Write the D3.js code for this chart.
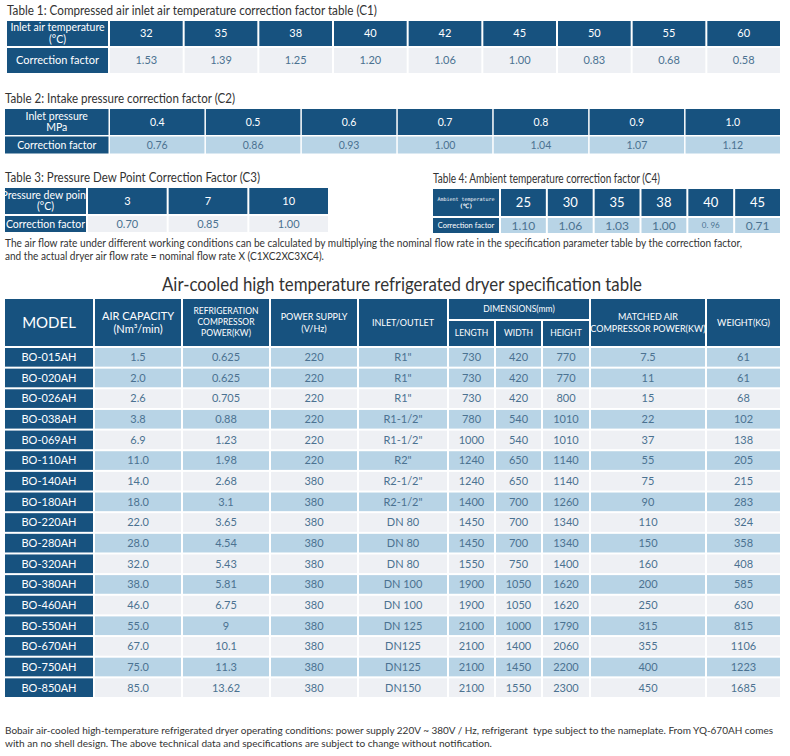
<!DOCTYPE html>
<html>
<head>
<meta charset="utf-8">
<script src="https://cdn.jsdelivr.net/npm/d3@7/dist/d3.min.js"></script>
<style>
  body { margin: 0; background: #fff; }
  svg { display: block; font-family: Lato, 'Noto Sans', sans-serif; }
</style>
</head>
<body>
<svg id="chart"></svg>
<script>
// correction factor tables
const c1Temps = ['32', '35', '38', '40', '42', '45', '50', '55', '60'];
const c1Factors = ['1.53', '1.39', '1.25', '1.20', '1.06', '1.00', '0.83', '0.68', '0.58'];
const c2Pressures = ['0.4', '0.5', '0.6', '0.7', '0.8', '0.9', '1.0'];
const c2Factors = ['0.76', '0.86', '0.93', '1.00', '1.04', '1.07', '1.12'];
const c3DewPoints = ['3', '7', '10'];
const c3Factors = ['0.70', '0.85', '1.00'];
const c4Temps = ['25', '30', '35', '38', '40', '45'];
const c4Factors = ['1.10', '1.06', '1.03', '1.00', '0. 96', '0.71'];

// specification table
const models = ['BO-015AH', 'BO-020AH', 'BO-026AH', 'BO-038AH', 'BO-069AH', 'BO-110AH', 'BO-140AH', 'BO-180AH', 'BO-220AH',
  'BO-280AH', 'BO-320AH', 'BO-380AH', 'BO-460AH', 'BO-550AH', 'BO-670AH', 'BO-750AH', 'BO-850AH'];
const airCapacity = ['1.5', '2.0', '2.6', '3.8', '6.9', '11.0', '14.0', '18.0', '22.0', '28.0', '32.0', '38.0', '46.0', '55.0', '67.0', '75.0', '85.0'];
const compressorPower = ['0.625', '0.625', '0.705', '0.88', '1.23', '1.98', '2.68', '3.1', '3.65', '4.54', '5.43', '5.81', '6.75', '9', '10.1', '11.3', '13.62'];
const powerSupply = ['220', '220', '220', '220', '220', '220', '380', '380', '380', '380', '380', '380', '380', '380', '380', '380', '380'];
const inletOutlet = ['R1"', 'R1"', 'R1"', 'R1-1/2"', 'R1-1/2"', 'R2"', 'R2-1/2"', 'R2-1/2"', 'DN 80', 'DN 80', 'DN 80', 'DN 100', 'DN 100', 'DN 125', 'DN125', 'DN125', 'DN150'];
const lengths = ['730', '730', '730', '780', '1000', '1240', '1240', '1400', '1450', '1450', '1550', '1900', '1900', '2100', '2100', '2100', '2100'];
const widths = ['420', '420', '420', '540', '540', '650', '650', '700', '700', '700', '750', '1050', '1050', '1000', '1400', '1450', '1550'];
const heights = ['770', '770', '800', '1010', '1010', '1140', '1140', '1260', '1340', '1340', '1400', '1620', '1620', '1790', '2060', '2200', '2300'];
const matchedPower = ['7.5', '11', '15', '22', '37', '55', '75', '90', '110', '150', '160', '200', '250', '315', '355', '400', '450'];
const weights = ['61', '61', '68', '102', '138', '205', '215', '283', '324', '358', '408', '585', '630', '815', '1106', '1223', '1685'];

const width = 790, height = 756;
const DARK = '#17527f', BLUE = '#b8d4e6', GREY = '#eef0f4', TEXT = '#4b7291', TITLE = '#333';

const svg = d3.select('#chart').attr('width', width).attr('height', height);

// small two-row correction table
function factorTable(o) {
  const g = svg.append('g');
  g.append('text').attr('x', o.x0).attr('y', o.top - 6).attr('font-size', 12.5).attr('fill', TITLE)
    .attr('textLength', o.titleLen).attr('lengthAdjust', 'spacingAndGlyphs')
    .text(o.title);

  const x = d3.scaleBand().domain(o.keys).range([o.split, o.x1 + o.gap]);
  const rows = [
    { y: o.top, h: o.headH, fill: DARK, color: '#fff', vals: o.keys, size: o.headSize, label: o.headLabel },
    { y: o.top + o.headH + o.gap, h: o.rowH, fill: o.rowFill, color: TEXT, vals: o.values, size: o.valSize, label: ['Correction factor'] }
  ];

  rows.forEach((r, ri) => {
    // first column label cell
    const cx = (o.x0 + o.split - o.gap) / 2;
    g.append('rect').attr('x', o.x0).attr('y', r.y).attr('width', o.split - o.gap - o.x0).attr('height', r.h).attr('fill', DARK);
    const lab = g.append('text').attr('fill', '#fff').attr('text-anchor', 'middle')
      .attr('font-size', ri === 0 ? o.labSize : o.cfSize);
    r.label.forEach((t, li) => {
      lab.append('tspan').attr('x', cx)
        .attr('y', r.y + r.h / 2 + (li - (r.label.length - 1) / 2) * (ri === 0 ? o.labLead : 0))
        .attr('dy', '0.35em')
        .attr('font-family', ri === 0 && o.labFont ? o.labFont : null)
        .attr('font-size', li === 1 && o.unitSize ? o.unitSize : null)
        .attr('font-weight', li === 1 && o.unitBold ? 'bold' : null)
        .text(t);
    });

    const cells = r.vals.map((v, i) => ({ k: o.keys[i], v }));
    g.selectAll(null).data(cells).join('rect')
      .attr('x', d => x(d.k)).attr('y', r.y)
      .attr('width', x.bandwidth() - o.gap).attr('height', r.h)
      .attr('fill', r.fill);
    g.selectAll(null).data(cells).join('text')
      .attr('x', d => x(d.k) + (x.bandwidth() - o.gap) / 2)
      .attr('y', r.y + r.h / 2).attr('dy', '0.35em')
      .attr('text-anchor', 'middle').attr('fill', r.color)
      .attr('font-size', d => (o.smallVal && d.v === o.smallVal) ? 8 : r.size)
      .text(d => d.v);
  });
}

factorTable({
  title: 'Table 1: Compressed air inlet air temperature correction factor table (C1)', titleLen: 370,
  x0: 7, split: 110, x1: 780, gap: 2, top: 21, headH: 25, rowH: 25,
  keys: c1Temps, values: c1Factors, rowFill: GREY,
  headLabel: ['Inlet air temperature', '(°C)'], labSize: 10.5, labLead: 12, cfSize: 11,
  headSize: 11, valSize: 11
});

factorTable({
  title: 'Table 2: Intake pressure correction factor (C2)', titleLen: 230,
  x0: 5, split: 110, x1: 780, gap: 1.5, top: 109, headH: 26, rowH: 17,
  keys: c2Pressures, values: c2Factors, rowFill: BLUE,
  headLabel: ['Inlet pressure', 'MPa'], labSize: 10.5, labLead: 11, cfSize: 10.5,
  headSize: 10.5, valSize: 10.5
});

factorTable({
  title: 'Table 3: Pressure Dew Point Correction Factor (C3)', titleLen: 255,
  x0: 5, split: 88, x1: 328, gap: 2, top: 188, headH: 26, rowH: 16,
  keys: c3DewPoints, values: c3Factors, rowFill: GREY,
  headLabel: ['Pressure dew point', '(°C)'], labSize: 10.5, labLead: 11, cfSize: 10.5,
  headSize: 11, valSize: 11
});

factorTable({
  title: 'Table 4: Ambient temperature correction factor (C4)', titleLen: 227,
  x0: 433, split: 501, x1: 780, gap: 2, top: 189, headH: 27, rowH: 15,
  keys: c4Temps, values: c4Factors, rowFill: BLUE,
  headLabel: ['Ambient temperature', '(℃)'], labSize: 5, labLead: 7, cfSize: 7.5,
  labFont: "'DejaVu Sans Mono', monospace", unitSize: 6, unitBold: true,
  headSize: 13, valSize: 12, smallVal: '0. 96'
});

// note under the small tables
svg.append('g').attr('font-size', 10.5).attr('fill', TITLE)
  .selectAll('text')
  .data([
    { t: 'The air flow rate under different working conditions can be calculated by multiplying the nominal flow rate in the specification parameter table by the correction factor,', len: 737 },
    { t: 'and the actual dryer air flow rate = nominal flow rate X (C1XC2XC3XC4).', len: 319 }
  ])
  .join('text')
  .attr('x', 5).attr('y', (d, i) => 247 + i * 13)
  .attr('textLength', d => d.len).attr('lengthAdjust', 'spacingAndGlyphs')
  .text(d => d.t);

// main title
svg.append('text').attr('x', 162).attr('y', 291)
  .attr('font-size', 19).attr('fill', TITLE)
  .attr('textLength', 480).attr('lengthAdjust', 'spacingAndGlyphs')
  .text('Air-cooled high temperature refrigerated dryer specification table');

// main specification table
const columns = [
  { key: 'model', w: 90, vals: models },
  { key: 'air', w: 88, vals: airCapacity },
  { key: 'comp', w: 88, vals: compressorPower },
  { key: 'power', w: 88, vals: powerSupply },
  { key: 'inlet', w: 90, vals: inletOutlet },
  { key: 'len', w: 47, vals: lengths },
  { key: 'wid', w: 47, vals: widths },
  { key: 'hei', w: 48, vals: heights },
  { key: 'match', w: 116, vals: matchedPower },
  { key: 'weight', w: 75, vals: weights }
];
const tableLeft = 5, headTop = 299, headBottom = 346, gap = 2;
const edges = [tableLeft, ...d3.cumsum(columns, c => c.w).map(v => v + tableLeft)];
const colX = d3.scaleOrdinal(columns.map(c => c.key), edges.slice(0, -1));
const colW = d3.scaleOrdinal(columns.map(c => c.key), columns.map(c => c.w - gap));

const y = d3.scaleBand().domain(models).range([headBottom + gap, 697 + gap]);

const head = svg.append('g');
const headerCells = [
  { from: 'model', to: 'model', top: headTop, bottom: headBottom, lines: ['MODEL'], size: 15, lead: 0 },
  { from: 'air', to: 'air', top: headTop, bottom: headBottom, lines: ['AIR CAPACITY', '(Nm³/min)'], size: 11, lead: 13 },
  { from: 'comp', to: 'comp', top: headTop, bottom: headBottom, lines: ['REFRIGERATION', 'COMPRESSOR', 'POWER(KW)'], size: 8.5, lead: 11 },
  { from: 'power', to: 'power', top: headTop, bottom: headBottom, lines: ['POWER SUPPLY', '(V/Hz)'], size: 9, lead: 12 },
  { from: 'inlet', to: 'inlet', top: headTop, bottom: headBottom, lines: ['INLET/OUTLET'], size: 9, lead: 0 },
  { from: 'len', to: 'hei', top: headTop, bottom: 319, lines: ['DIMENSIONS(mm)'], size: 8.5, lead: 0 },
  { from: 'len', to: 'len', top: 321, bottom: headBottom, lines: ['LENGTH'], size: 8.5, lead: 0 },
  { from: 'wid', to: 'wid', top: 321, bottom: headBottom, lines: ['WIDTH'], size: 8.5, lead: 0 },
  { from: 'hei', to: 'hei', top: 321, bottom: headBottom, lines: ['HEIGHT'], size: 8.5, lead: 0 },
  { from: 'match', to: 'match', top: headTop, bottom: headBottom, lines: ['MATCHED AIR', 'COMPRESSOR POWER(KW)'], size: 9, lead: 12 },
  { from: 'weight', to: 'weight', top: headTop, bottom: headBottom, lines: ['WEIGHT(KG)'], size: 9, lead: 0 }
];
headerCells.forEach(c => {
  const x0 = colX(c.from), x1 = colX(c.to) + colW(c.to);
  head.append('rect').attr('x', x0).attr('y', c.top).attr('width', x1 - x0).attr('height', c.bottom - c.top).attr('fill', DARK);
  const t = head.append('text').attr('text-anchor', 'middle').attr('fill', '#fff').attr('font-size', c.size);
  c.lines.forEach((line, i) => {
    t.append('tspan').attr('x', (x0 + x1) / 2)
      .attr('y', (c.top + c.bottom) / 2 + (i - (c.lines.length - 1) / 2) * c.lead)
      .attr('dy', '0.35em').text(line);
  });
});

const rowFill = i => (i === 0 || i % 2 === 1) ? BLUE : GREY;
const body = svg.append('g');
columns.forEach(col => {
  const g = body.append('g');
  g.selectAll('rect').data(col.vals).join('rect')
    .attr('x', colX(col.key)).attr('y', (d, i) => y(models[i]))
    .attr('width', colW(col.key)).attr('height', y.bandwidth() - gap)
    .attr('fill', (d, i) => col.key === 'model' ? DARK : rowFill(i));
  g.selectAll('text').data(col.vals).join('text')
    .attr('x', colX(col.key) + colW(col.key) / 2)
    .attr('y', (d, i) => y(models[i]) + (y.bandwidth() - gap) / 2)
    .attr('dy', '0.35em').attr('text-anchor', 'middle')
    .attr('font-size', 11)
    .attr('fill', col.key === 'model' ? '#fff' : TEXT)
    .text(d => d);
});

// footer
svg.append('g').attr('font-size', 10).attr('fill', TITLE)
  .selectAll('text')
  .data([
    { t: 'Bobair air-cooled high-temperature refrigerated dryer operating conditions: power supply 220V ~ 380V / Hz, refrigerant  type subject to the nameplate. From YQ-670AH comes', len: 768 },
    { t: 'with an no shell design. The above technical data and specifications are subject to change without notification.', len: 487 }
  ])
  .join('text')
  .attr('x', 5).attr('y', (d, i) => 734 + i * 13)
  .attr('textLength', d => d.len).attr('lengthAdjust', 'spacingAndGlyphs')
  .style('white-space', 'pre')
  .text(d => d.t);
</script>
</body>
</html>
